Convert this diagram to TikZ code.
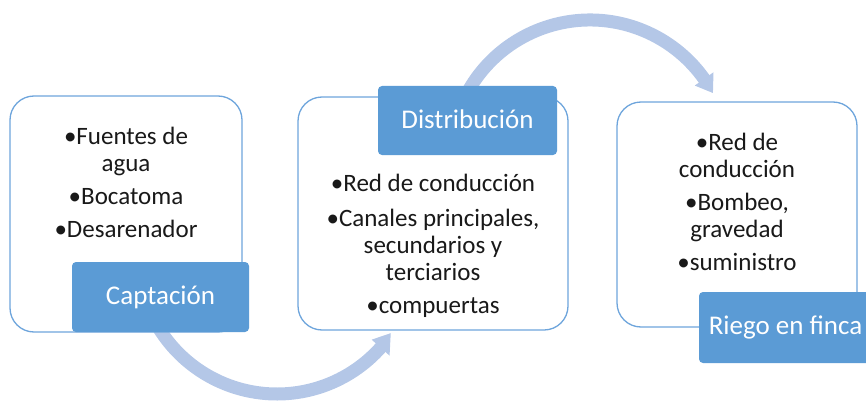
\documentclass[tikz,border=0pt]{standalone}
\usepackage{fontspec}
\setmainfont{Carlito}
\usetikzlibrary{calc}
\definecolor{boxline}{RGB}{110,165,220}
\definecolor{labelfill}{RGB}{91,155,213}
\definecolor{arrowcol}{RGB}{180,199,231}
\begin{document}
\begin{tikzpicture}[x=1pt,y=1pt,
  stagebox/.style={draw=boxline, line width=1.3pt, fill=white, rounded corners=24pt, inner sep=0pt},
  stagelabel/.style={fill=labelfill, rounded corners=4pt, text=white, font=\fontsize{27}{30}\selectfont, inner sep=0pt},
  bodytext/.style={align=center, font=\fontsize{25}{27}\selectfont, inner sep=0pt, text=black!90},
  flowband/.style={draw=arrowcol, line width=13pt},
  flowhead/.style={fill=arrowcol, draw=none}]
\useasboundingbox (0,0) rectangle (866,-401);
% circular arrows
\coordinate (c1) at (277,-255);
\coordinate (c2) at (590,-160);
\draw[flowband] ($(c1)+(205:139)$) arc[start angle=205, end angle=318.5, radius=139];
\fill[flowhead] ($(c1)+(318.2:127)$) -- ($(c1)+(325.5:138)$) -- ($(c1)+(318.2:151)$) -- cycle;
\draw[flowband] ($(c2)+(155:140)$) arc[start angle=155, end angle=35.1, radius=140];
\fill[flowhead] ($(c2)+(35.4:128.5)$) -- ($(c2)+(28.6:140)$) -- ($(c2)+(35.4:151.5)$) -- cycle;
% stage boxes
\node[stagebox, minimum width=232, minimum height=236] (box1) at (126,-214) {};
\node[stagebox, minimum width=270, minimum height=233] (box2) at (433,-213.5) {};
\node[stagebox, minimum width=240, minimum height=225] (box3) at (737,-214.5) {};
% labels
\node[stagelabel, minimum width=177, minimum height=70] (lab1) at (160.5,-297) {Captación};
\node[stagelabel, minimum width=179, minimum height=69] (lab2) at (467.5,-120.5) {\raisebox{2pt}{Distribución}};
\node[stagelabel, minimum width=173, minimum height=71] (lab3) at (785.5,-327.5) {Riego en finca};
% texts
\node[bodytext] (t1) at (126,-182) {•Fuentes de\\agua\\[6pt]•Bocatoma\\[6pt]•Desarenador};
\node[bodytext] (t2) at (433,-246) {•Red de conducción\\[8pt]•Canales principales,\\secundarios y\\terciarios\\[6pt]•compuertas};
\node[bodytext] (t3) at (737,-202) {•Red de\\conducción\\[6pt]•Bombeo,\\gravedad\\[6pt]•suministro};
\end{tikzpicture}
\end{document}
